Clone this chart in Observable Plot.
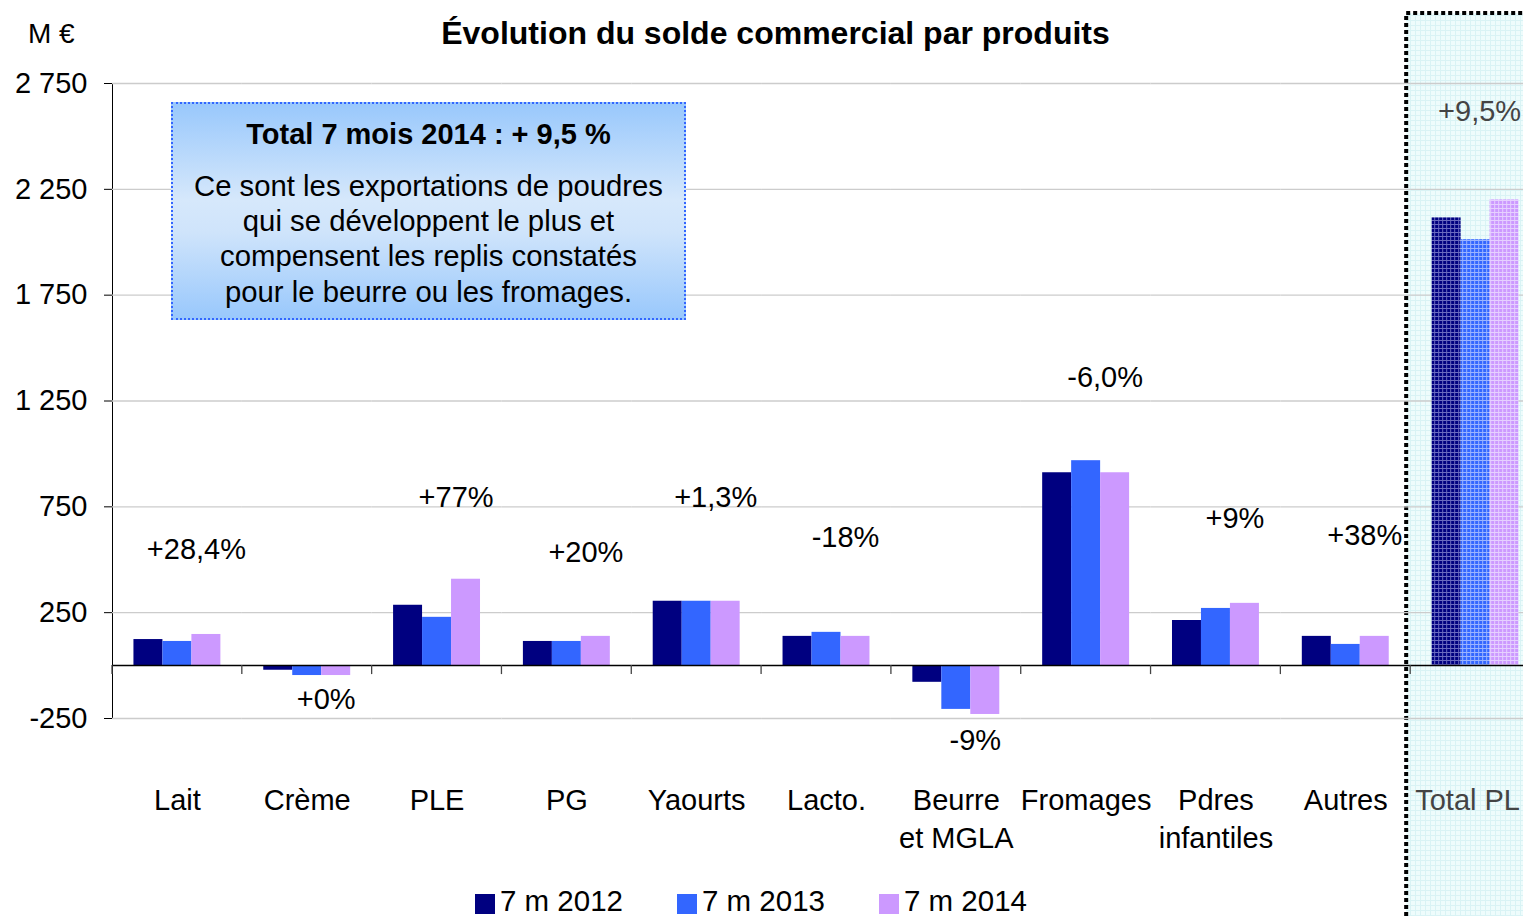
<!DOCTYPE html>
<html>
<head>
<meta charset="utf-8">
<script src="https://cdn.jsdelivr.net/npm/d3@7"></script>
<script src="https://cdn.jsdelivr.net/npm/@observablehq/plot@0.6"></script>
<style>
  html, body { margin: 0; padding: 0; background: #fff; }
  body { width: 1523px; height: 916px; overflow: hidden; position: relative;
         font-family: "Liberation Sans", Arial, sans-serif; color: #000; }
  #chart { position: absolute; left: 0; top: 0; width: 1560px; }
  #chart svg { max-width: none !important; }
  #title { position: absolute; left: 0; width: 1551px; top: 16px; text-align: center;
           font-weight: bold; font-size: 32px; line-height: 34px; }
  #unit { position: absolute; left: 28px; top: 18px; font-size: 28px; line-height: 32px; }
  #note { position: absolute; left: 171px; top: 102px; width: 511px; height: 214px;
          border: 2px dotted #3366ff;
          background: linear-gradient(to bottom, #99c8fc 0%, #d6e8fb 45%, #cfe4fb 60%, #99c8fc 100%);
          text-align: center; }
  #note .h { font-weight: bold; font-size: 29px; line-height: 36px; margin-top: 12px; }
  #note .b { font-size: 29.3px; line-height: 35.2px; margin-top: 16px; }
  #legend { position: absolute; left: 475px; top: 884px; display: flex; font-size: 29.5px; line-height: 34px; }
  #legend .it { display: flex; align-items: center; width: 202px; }
  #legend .sw { width: 20px; height: 20px; margin-right: 5px; margin-top: 6px; }
</style>
</head>
<body>
<svg width="0" height="0" style="position:absolute">
  <defs>
    <pattern id="pat0" patternUnits="userSpaceOnUse" width="4" height="4">
      <rect width="4" height="4" fill="#000080"/>
      <path d="M0 0.5H4M0.5 0V4" stroke="#6a6ac0" stroke-width="1"/>
    </pattern>
    <pattern id="pat1" patternUnits="userSpaceOnUse" width="4" height="4">
      <rect width="4" height="4" fill="#3366ff"/>
      <path d="M0 0.5H4M0.5 0V4" stroke="#9bb4ff" stroke-width="1"/>
    </pattern>
    <pattern id="pat2" patternUnits="userSpaceOnUse" width="4" height="4">
      <rect width="4" height="4" fill="#cc99ff"/>
      <path d="M0 0.5H4M0.5 0V4" stroke="#e6d0ff" stroke-width="1"/>
    </pattern>
    <pattern id="patbg" patternUnits="userSpaceOnUse" width="5" height="5">
      <rect width="5" height="5" fill="#eefcfc"/>
      <path d="M0 0.5H5M0.5 0V5" stroke="#d9f3f5" stroke-width="1"/>
    </pattern>
  </defs>
</svg>
<div id="chart"></div>
<div id="unit">M €</div>
<div id="title">Évolution du solde commercial par produits</div>
<div id="note">
  <div class="h">Total 7 mois 2014 : + 9,5 %</div>
  <div class="b">Ce sont les exportations de poudres<br>qui se développent le plus et<br>compensent les replis constatés<br>pour le beurre ou les fromages.</div>
</div>
<div id="legend"></div>
<script>
// ---- data ----
const categories = ["Lait", "Crème", "PLE", "PG", "Yaourts", "Lacto.", "Beurre\net MGLA", "Fromages", "Pdres\ninfantiles", "Autres", "Total PL"];
const series = ["7 m 2012", "7 m 2013", "7 m 2014"];
const v2012 = [123, -22, 285, 114, 304, 138, -79, 911, 213, 138, 2115];
const v2013 = [114, -47, 228, 114, 304, 157, -207, 968, 270, 100, 2012];
const v2014 = [147, -47, 408, 138, 304, 138, -231, 911, 294, 138, 2200];
const pctLabels = ["+28,4%", "+0%", "+77%", "+20%", "+1,3%", "-18%", "-9%", "-6,0%", "+9%", "+38%", "+9,5%"];
const pctLabelY = [546, -161, 793, 532, 793, 603, -356, 1362, 693, 612, 2615];
const yTicks = [-250, 250, 750, 1250, 1750, 2250, 2750];
const colors = ["#000080", "#3366ff", "#cc99ff"];
const totalCat = "Total PL";

// ---- tables ----
const seriesValues = [v2012, v2013, v2014];
const data = categories.flatMap((c, i) => series.map((s, j) => ({cat: c, series: s, value: seriesValues[j][i]})));
const main = data.filter(d => d.cat !== totalCat);
const total = data.filter(d => d.cat === totalCat);
const pct = categories.map((c, i) => ({cat: c, label: pctLabels[i], ly: pctLabelY[i]}));

const fmt = d => (d < 0 ? "-" : "") + d3.format(",")(Math.abs(d)).replace(/,/g, " ");

const plot = Plot.plot({
  width: 1560,
  height: 916,
  marginLeft: 112,
  marginRight: 20,
  marginTop: 83,
  marginBottom: 198,
  style: {fontFamily: "'Liberation Sans', Arial, sans-serif", fontSize: "29px", color: "#000", background: "transparent", overflow: "visible", maxWidth: "none"},
  fx: {domain: categories, padding: 0, round: false, axis: null},
  x: {domain: series, paddingInner: 0, paddingOuter: 0.74, round: false, axis: null},
  y: {domain: [-250, 2750], ticks: yTicks, tickFormat: fmt, tickSize: 8, tickPadding: 17, label: null, line: true},
  color: {domain: series, range: colors},
  marks: [
    Plot.ruleY(yTicks, {stroke: "#cccccc", strokeWidth: 1.3}),
    Plot.barY(main, {fx: "cat", x: "series", y: "value", fill: "series"}),
    ...series.map((s, j) => Plot.barY(total.filter(d => d.series === s), {fx: "cat", x: "series", y: "value", fill: `url(#pat${j})`})),
    Plot.ruleY([0], {stroke: "#000", strokeWidth: 1.5}),
    Plot.text(pct.filter(d => d.cat !== totalCat), {fx: "cat", y: "ly", text: "label", dx: 19, fontSize: 29}),
    Plot.text(pct.filter(d => d.cat === totalCat), {fx: "cat", y: "ly", text: "label", dx: 4, fontSize: 29, fill: "#444444"}),
    Plot.text(categories.filter(c => c !== totalCat), {fx: d => d, text: d => d, frameAnchor: "bottom", lineAnchor: "top", dy: 65, lineHeight: 1.31, fontSize: 29}),
    Plot.text([totalCat], {fx: d => d, text: d => d, frameAnchor: "bottom", lineAnchor: "top", dy: 65, dx: -8, lineHeight: 1.31, fontSize: 29, fill: "#444444"})
  ]
});
plot.style.maxWidth = "none";
document.getElementById("chart").appendChild(plot);

// ---- decorations from the library's scales ----
const fxS = plot.scale("fx");
const yS = plot.scale("y");
const fx = d3.scaleBand(fxS.domain, fxS.range)
  .paddingInner(fxS.paddingInner ?? fxS.padding ?? 0)
  .paddingOuter(fxS.paddingOuter ?? fxS.padding ?? 0)
  .align(fxS.align ?? 0.5)
  .round(!!fxS.round);
const y = d3.scaleLinear(yS.domain, yS.range);
const svg = d3.select(plot);

// highlighted Total PL region (behind everything)
const x0 = fx(totalCat) - 4;
svg.insert("rect", ":first-child")
  .attr("x", x0).attr("y", 13).attr("width", 400).attr("height", 1000)
  .attr("fill", "url(#patbg)").attr("stroke", "#000").attr("stroke-width", 4).attr("stroke-dasharray", "4 3");

// category boundary ticks on the zero line
const bounds = categories.map(c => fx(c)).concat([fx(categories[categories.length - 1]) + fx.bandwidth()]);
svg.append("g").selectAll("line").data(bounds).join("line")
  .attr("x1", d => d).attr("x2", d => d)
  .attr("y1", y(0)).attr("y2", y(0) + 9)
  .attr("stroke", "#444").attr("stroke-width", 1.3);

// legend
const lg = d3.select("#legend");
series.forEach((s, j) => {
  const it = lg.append("div").attr("class", "it");
  it.append("div").attr("class", "sw").style("background", colors[j]);
  it.append("span").text(s);
});
</script>
</body>
</html>
